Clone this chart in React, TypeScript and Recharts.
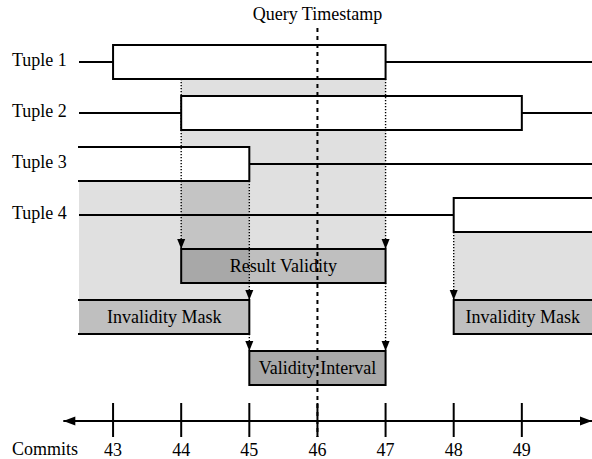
import {
  ComposedChart,
  XAxis,
  YAxis,
  ReferenceArea,
  ReferenceLine,
  ReferenceDot,
} from "recharts";

// commits on the time axis
const commits = [43, 44, 45, 46, 47, 48, 49];
const queryCommit = 46;

// tuples: validity intervals (null = open ended)
const tupleLabels = ["Tuple 1", "Tuple 2", "Tuple 3", "Tuple 4"];
const tupleStart = [43, 44, null, 48];
const tupleEnd = [47, 49, 45, null];

// derived intervals drawn below the tuples
const resultLabels = ["Result Validity", "Invalidity Mask", "Invalidity Mask", "Validity Interval"];
const resultRows = [4, 5, 5, 6];
const resultStart = [44, null, 48, 45];
const resultEnd = [47, 45, null, 47];

// shaded regions linking tuples to results
const regionStart = [44, null, 48];
const regionEnd = [47, 45, null];
const regionFromRow = [0, 2, 3];
const regionToRow = [4, 5, 5];

// dotted arrows
const arrowX = [44, 47, 45, 48, 45, 47];
const arrowFromRow = [0, 0, 2, 3, 5, 4];
const arrowToRow = [4, 4, 5, 5, 6, 6];

const X_DOMAIN: [number, number] = [42.5, 50.03];
const Y_DOMAIN: [number, number] = [-0.667, 7.392];
const HALF = 1 / 3;
const AXIS_ROW = 7.04;
const AXIS_LEFT = 42.27;
const TICK_TOP = 6.686;
const TICK_BOTTOM = 7.353;
const FONT = '"Liberation Serif", "Times New Roman", serif';
const FS = 18;

const resultOpacity: Record<string, number> = {
  "Result Validity": 0.25,
  "Invalidity Mask": 0.25,
  "Validity Interval": 0.34,
};

const boxShape = (openLeft: boolean, openRight: boolean, fill: string, fillOpacity: number) =>
  (p: any) => {
    const { x, y, width, height } = p;
    let d = `M${x},${y}H${x + width}M${x},${y + height}H${x + width}`;
    if (!openLeft) d += `M${x},${y}V${y + height}`;
    if (!openRight) d += `M${x + width},${y}V${y + height}`;
    return (
      <g>
        <rect x={x} y={y} width={width} height={height} fill={fill} fillOpacity={fillOpacity} />
        <path d={d} stroke="#000" strokeWidth={2} strokeLinecap="square" fill="none" />
      </g>
    );
  };

const downArrow = (p: any) => (
  <polygon
    points={`${p.cx - 4},${p.cy - 10} ${p.cx + 4},${p.cy - 10} ${p.cx},${p.cy}`}
    fill="#000"
  />
);
const leftArrow = (p: any) => (
  <polygon
    points={`${p.cx},${p.cy} ${p.cx + 12},${p.cy - 4.5} ${p.cx + 12},${p.cy + 4.5}`}
    fill="#000"
  />
);
const rightArrow = (p: any) => (
  <polygon
    points={`${p.cx},${p.cy} ${p.cx - 12},${p.cy - 4.5} ${p.cx - 12},${p.cy + 4.5}`}
    fill="#000"
  />
);

const RowTick = (p: any) => (
  <text x={12} y={p.y + 4} fill="#000" fontSize={FS} fontFamily={FONT} textAnchor="start">
    {tupleLabels[p.payload.value]}
  </text>
);

export default function App() {
  const data = commits.map((c) => ({ x: c }));
  return (
    <div style={{ position: "absolute", left: 0, top: 0, background: "#fff" }}>
      <ComposedChart
        width={592}
        height={459}
        data={data}
        margin={{ top: 28, right: 0, bottom: 0, left: 0 }}
      >
        <XAxis
          type="number"
          dataKey="x"
          domain={X_DOMAIN}
          allowDataOverflow
          ticks={commits}
          interval={0}
          height={20}
          axisLine={false}
          tickLine={false}
          tickSize={0}
          tickMargin={4}
          tick={{ fill: "#000", fontSize: FS, fontFamily: FONT }}
          label={{ value: "Commits", position: "left", offset: 1, fill: "#000", fontSize: FS, fontFamily: FONT }}
        />
        <YAxis
          type="number"
          domain={Y_DOMAIN}
          allowDataOverflow
          reversed
          ticks={[0, 1, 2, 3]}
          interval={0}
          width={79}
          axisLine={false}
          tickLine={false}
          tick={RowTick}
        />

        {regionFromRow.map((r, i) => (
          <ReferenceArea
            key={`reg${i}`}
            x1={regionStart[i] ?? X_DOMAIN[0]}
            x2={regionEnd[i] ?? X_DOMAIN[1]}
            y1={r + HALF}
            y2={regionToRow[i] - HALF}
            fill="#000"
            fillOpacity={0.12}
            stroke="none"
          />
        ))}

        {tupleLabels.map((t, i) => (
          <ReferenceArea
            key={`tup${i}`}
            x1={tupleStart[i] ?? X_DOMAIN[0]}
            x2={tupleEnd[i] ?? X_DOMAIN[1]}
            y1={i - HALF}
            y2={i + HALF}
            shape={boxShape(tupleStart[i] == null, tupleEnd[i] == null, "#fff", 1)}
          />
        ))}

        {resultLabels.map((t, i) => (
          <ReferenceArea
            key={`res${i}`}
            x1={resultStart[i] ?? X_DOMAIN[0]}
            x2={resultEnd[i] ?? X_DOMAIN[1]}
            y1={resultRows[i] - HALF}
            y2={resultRows[i] + HALF}
            shape={boxShape(resultStart[i] == null, resultEnd[i] == null, "#000", resultOpacity[t])}
            label={{ value: t, position: "center", fill: "#000", fontSize: FS, fontFamily: FONT }}
          />
        ))}

        {tupleLabels.map((t, i) => [
          tupleStart[i] != null && (
            <ReferenceLine
              key={`tl${i}`}
              segment={[
                { x: X_DOMAIN[0], y: i },
                { x: tupleStart[i] as number, y: i },
              ]}
              stroke="#000"
              strokeWidth={2}
            />
          ),
          tupleEnd[i] != null && (
            <ReferenceLine
              key={`tr${i}`}
              segment={[
                { x: tupleEnd[i] as number, y: i },
                { x: X_DOMAIN[1], y: i },
              ]}
              stroke="#000"
              strokeWidth={2}
            />
          ),
        ])}

        {arrowX.map((x, i) => (
          <ReferenceLine
            key={`al${i}`}
            segment={[
              { x, y: arrowFromRow[i] + HALF },
              { x, y: arrowToRow[i] - HALF },
            ]}
            stroke="#000"
            strokeWidth={1.4}
            strokeDasharray="1.3 1.7"
          />
        ))}

        {/* time axis */}
        <ReferenceLine
          segment={[
            { x: AXIS_LEFT, y: AXIS_ROW },
            { x: X_DOMAIN[1], y: AXIS_ROW },
          ]}
          stroke="#000"
          strokeWidth={2}
          ifOverflow="visible"
        />
        {commits.map((c) => (
          <ReferenceLine
            key={`tk${c}`}
            segment={[
              { x: c, y: TICK_TOP },
              { x: c, y: TICK_BOTTOM },
            ]}
            stroke="#000"
            strokeWidth={2}
          />
        ))}

        <ReferenceLine
          segment={[
            { x: queryCommit, y: Y_DOMAIN[0] },
            { x: queryCommit, y: TICK_BOTTOM },
          ]}
          stroke="#000"
          strokeWidth={2}
          strokeDasharray="4 4"
          label={{ value: "Query Timestamp", position: "top", offset: 8, fill: "#000", fontSize: FS, fontFamily: FONT }}
        />

        {arrowX.map((x, i) => (
          <ReferenceDot
            key={`ah${i}`}
            x={x}
            y={arrowToRow[i] - HALF}
            r={4}
            shape={downArrow}
          />
        ))}
        <ReferenceDot x={AXIS_LEFT} y={AXIS_ROW} r={4} shape={leftArrow} ifOverflow="visible" />
        <ReferenceDot x={X_DOMAIN[1]} y={AXIS_ROW} r={4} shape={rightArrow} ifOverflow="visible" />
      </ComposedChart>
    </div>
  );
}
